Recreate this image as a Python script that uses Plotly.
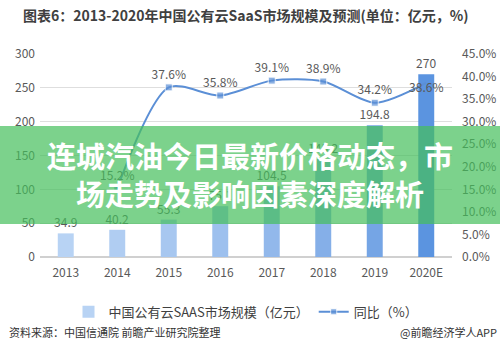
import plotly.graph_objects as go

years = ["2013", "2014", "2015", "2016", "2017", "2018", "2019", "2020E"]
market_size = [34.9, 40.2, 55.3, 75.1, 104.5, 145.2, 194.8, 270]
growth = [None, 15.2, 37.6, 35.8, 39.1, 38.9, 34.2, 38.6]
bar_colors = ["#b8d3f4", "#b0cdf2", "#a7c7f0", "#9dc0ee", "#92b8eb", "#85afe8", "#75a5e5", "#5b94e0"]

FONT = "Noto Sans CJK SC"
LINE_C = "#5b8fd6"

fig = go.Figure()
fig.add_trace(go.Bar(
    x=years, y=market_size, name="中国公有云SAAS市场规模（亿元）",
    marker=dict(color=bar_colors, line=dict(width=0)),
    text=[f"{v:g}" for v in market_size], textposition="outside",
    constraintext="none",
    textfont=dict(size=12, color="#595959", family=FONT),
    cliponaxis=False, yaxis="y",
))
fig.add_trace(go.Scatter(
    x=years, y=growth, name="同比（%）", yaxis="y2",
    mode="lines+markers+text",
    line=dict(color=LINE_C, width=2, shape="spline", smoothing=0.8),
    marker=dict(symbol="square", size=[7, 7, 7, 7, 7, 7, 7, 0], color=LINE_C),
    text=[("" if g is None else f"{g:.1f}%") for g in growth],
    textposition=["top center"] * 7 + ["bottom center"],
    textfont=dict(size=12, color="#595959", family=FONT),
    cliponaxis=False, connectgaps=False,
))

fig.update_layout(
    width=500, height=350,
    margin=dict(l=40, r=48, t=54, b=93),
    paper_bgcolor="white", plot_bgcolor="white",
    font=dict(family=FONT, color="#595959", size=12),
    bargap=0.69,
    showlegend=True,
    legend=dict(orientation="h", x=0.5, xanchor="center", y=-0.27, yanchor="middle",
                font=dict(size=13, color="#404040", family=FONT), itemwidth=30,
                traceorder="normal"),
    xaxis=dict(showgrid=False, showline=False, ticks="", tickfont=dict(size=12, color="#595959"),
               ticklabelstandoff=7, automargin=False),
    yaxis=dict(range=[0, 300], dtick=50, showgrid=True, gridcolor="#dedede", gridwidth=1,
               zeroline=True, zerolinecolor="#d0d0d0", showline=False, ticks="",
               tickfont=dict(size=12, color="#595959"), ticklabelstandoff=4, automargin=False),
    yaxis2=dict(range=[0, 45], dtick=5, overlaying="y", side="right", showgrid=False,
                zeroline=False, showline=False, ticks="", tickformat=".1f", ticksuffix="%",
                tickfont=dict(size=12, color="#595959"), ticklabelstandoff=9, automargin=False),
)

# Title
fig.add_annotation(text="<b>图表6：2013-2020年中国公有云SaaS市场规模及预测(单位：亿元，%)</b>",
                   xref="paper", yref="paper", x=0.5, xanchor="center",
                   y=1.0, yanchor="bottom", yshift=27, showarrow=False,
                   font=dict(size=14, color="#404040", family=FONT))
# Footer
fig.add_annotation(text="资料来源：中国信通院 前瞻产业研究院整理", xref="paper", yref="paper",
                   x=-0.08, xanchor="left", y=-0.37, yanchor="middle", showarrow=False,
                   font=dict(size=11, color="#333333", family=FONT))
fig.add_annotation(text="@前瞻经济学人APP", xref="paper", yref="paper",
                   x=1.115, xanchor="right", y=-0.37, yanchor="middle", showarrow=False,
                   font=dict(size=11, color="#333333", family=FONT))

# Green banner overlay
fig.add_shape(type="rect", xref="paper", yref="paper", x0=-0.2, x1=1.2,
              y0=(350 - 93 - 224) / 203, y1=(350 - 93 - 126) / 203,
              fillcolor="rgba(69,191,91,0.7)", line=dict(width=0), layer="above")
fig.add_annotation(text="<b>连城汽油今日最新价格动态，市<br>场走势及影响因素深度解析</b>",
                   xref="paper", yref="paper", x=(250 - 40) / 412, xanchor="center",
                   y=(350 - 93 - 174) / 203, yanchor="middle", showarrow=False,
                   align="center", font=dict(size=29, color="white", family=FONT))

fig.write_html("out.html")
